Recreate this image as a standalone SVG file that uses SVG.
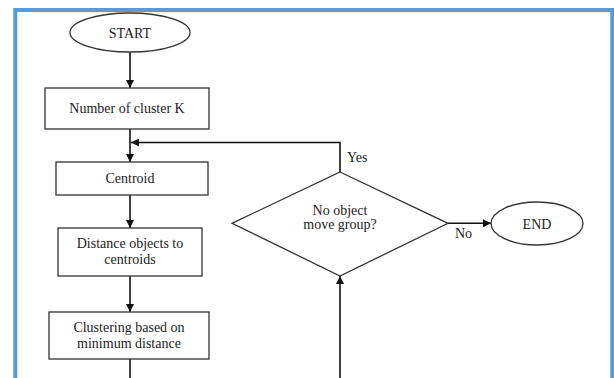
<svg xmlns="http://www.w3.org/2000/svg" width="614" height="378" viewBox="0 0 614 378">
<style>
.box{fill:#fff;stroke:#333;stroke-width:1.3}
.t{font-family:"Liberation Serif","Times New Roman",serif;font-size:14px;fill:#222;text-anchor:middle}
.l{font-family:"Liberation Serif","Times New Roman",serif;font-size:14px;fill:#222}
.c{fill:none;stroke:#111;stroke-width:1.6}
</style>
<defs>
<marker id="ah" viewBox="0 0 10 10" refX="10" refY="5" markerWidth="9" markerHeight="8" markerUnits="userSpaceOnUse" orient="auto">
<path d="M0,0 L10,5 L0,10 z" fill="#111"/>
</marker>
</defs>
<rect x="0" y="0" width="614" height="378" fill="#fff"/>
<rect x="15.3" y="10" width="597" height="400" fill="none" stroke="#5B9BD5" stroke-width="4"/>
<g id="connectors">
<line class="c" x1="130" y1="52" x2="130" y2="88" marker-end="url(#ah)"/>
<line class="c" x1="130" y1="129" x2="130" y2="162" marker-end="url(#ah)"/>
<polyline class="c" points="340,172 340,142.5 131,142.5" marker-end="url(#ah)"/>
<line class="c" x1="130" y1="195" x2="130" y2="228" marker-end="url(#ah)"/>
<line class="c" x1="130" y1="276" x2="130" y2="312" marker-end="url(#ah)"/>
<line class="c" x1="130" y1="359" x2="130" y2="380"/>
<line class="c" x1="448" y1="223.3" x2="491" y2="223.3" marker-end="url(#ah)"/>
<line class="c" x1="340" y1="380" x2="340" y2="276" marker-end="url(#ah)"/>
<text class="l" x="347" y="162">Yes</text>
<text class="l" x="455" y="238">No</text>
</g>
<g id="start">
<ellipse class="box" cx="130" cy="32.5" rx="60" ry="19.5"/>
<text class="t" x="130" y="37.5">START</text>
</g>
<g id="numclusters">
<rect class="box" x="45" y="88" width="164" height="41"/>
<text class="t" x="127" y="113">Number of cluster K</text>
</g>
<g id="centroid">
<rect class="box" x="56" y="162" width="152" height="33"/>
<text class="t" x="130" y="183">Centroid</text>
</g>
<g id="distance">
<rect class="box" x="58" y="228" width="144" height="48"/>
<text class="t" x="130" y="248">Distance objects to</text>
<text class="t" x="130" y="264">centroids</text>
</g>
<g id="clustering">
<rect class="box" x="49" y="312" width="160" height="47"/>
<text class="t" x="129" y="332">Clustering based on</text>
<text class="t" x="129" y="348">minimum distance</text>
</g>
<g id="decision">
<polygon class="box" points="340,172 448,223.3 340,276 232,223.3"/>
<text class="t" x="340" y="215">No object</text>
<text class="t" x="340" y="229">move group?</text>
</g>
<g id="end">
<ellipse class="box" cx="537" cy="223.5" rx="46" ry="21.5"/>
<text class="t" x="537" y="228.5">END</text>
</g>
</svg>
